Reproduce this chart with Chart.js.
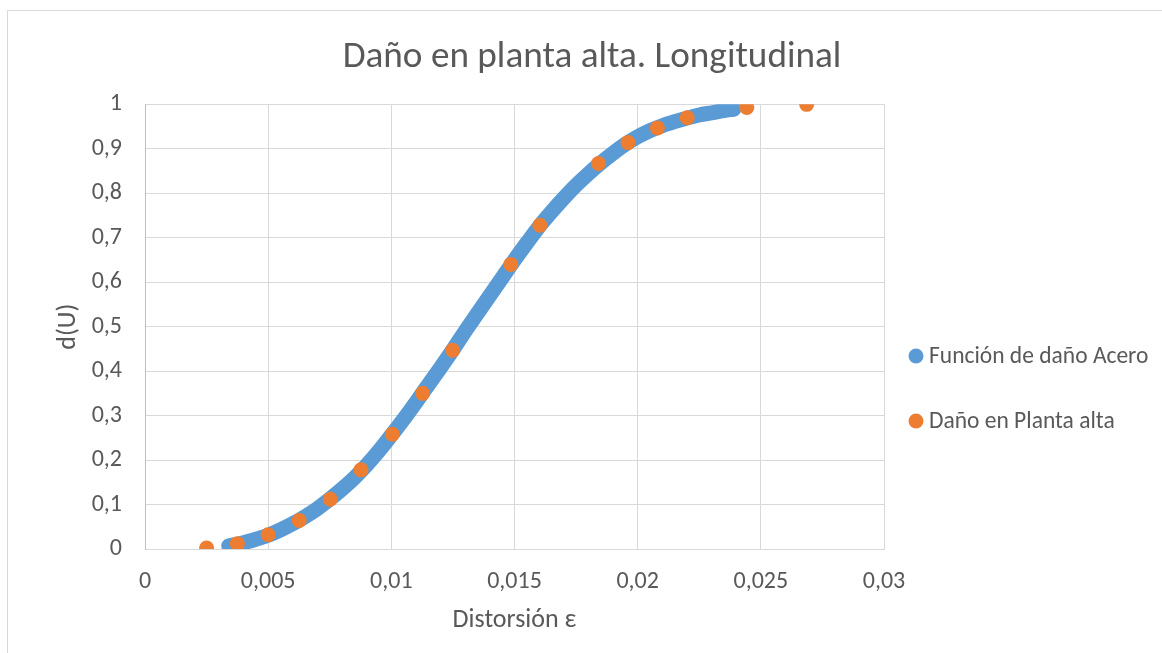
<!DOCTYPE html>
<html>
<head>
<meta charset="utf-8">
<script src="https://cdn.jsdelivr.net/npm/chart.js@4.4.1/dist/chart.umd.min.js"></script>
<style>
  html, body { margin: 0; padding: 0; background: #ffffff; overflow: hidden; }
  #wrap { position: relative; width: 1162px; height: 653px; }
  #frame { position: absolute; left: 7px; top: 10px; width: 1200px; height: 700px;
           border: 1px solid #d9d9d9; box-sizing: border-box; pointer-events: none; }
  canvas { position: absolute; left: 0; top: 0; }
</style>
</head>
<body>
<div id="wrap">
  <canvas id="c" width="1162" height="653"></canvas>
  <div id="frame"></div>
</div>
<script>
// ---- Data ----
const titleText = 'Daño en planta alta. Longitudinal';
const xAxisTitle = 'Distorsión ε';
const yAxisTitle = 'd(U)';
const seriesNames = ['Función de daño Acero', 'Daño en Planta alta'];

// Blue series: damage function (steel)
const curveX = [0.0034, 0.0035, 0.004, 0.0045, 0.005, 0.0055, 0.006, 0.0065, 0.007, 0.0075,
                0.008, 0.0085, 0.009, 0.0095, 0.010, 0.0105, 0.011, 0.0115, 0.012, 0.0125,
                0.013, 0.0135, 0.014, 0.0145, 0.015, 0.0155, 0.016, 0.0165, 0.017, 0.0175,
                0.018, 0.0185, 0.019, 0.0195, 0.020, 0.0205, 0.021, 0.0215, 0.022, 0.0225,
                0.023, 0.0235, 0.0239];
const curveY = [0.007, 0.008, 0.014, 0.022, 0.031, 0.043, 0.057, 0.073, 0.091, 0.112,
                0.135, 0.160, 0.189, 0.221, 0.256, 0.292, 0.330, 0.369, 0.408, 0.448,
                0.490, 0.530, 0.570, 0.610, 0.650, 0.688, 0.725, 0.758, 0.789, 0.818,
                0.844, 0.868, 0.890, 0.910, 0.927, 0.941, 0.952, 0.961, 0.969, 0.976,
                0.981, 0.986, 0.989];

// Orange series: damage in upper floor
const ptsX = [0.0025, 0.00375, 0.005, 0.00626, 0.00752, 0.00877, 0.01004, 0.01127, 0.01249,
              0.01485, 0.01603, 0.01841, 0.01961, 0.0208, 0.02201, 0.02443, 0.02686];
const ptsY = [0.002, 0.012, 0.032, 0.064, 0.112, 0.178, 0.258, 0.350, 0.447,
              0.640, 0.728, 0.867, 0.914, 0.947, 0.970, 0.993, 1.0];

// Tick labels
const xTickLabels = ['0', '0,005', '0,01', '0,015', '0,02', '0,025', '0,03'];
const yTickLabels = ['0', '0,1', '0,2', '0,3', '0,4', '0,5', '0,6', '0,7', '0,8', '0,9', '1'];

// ---- Styling ----
const BLUE = '#5b9bd5';
const ORANGE = '#ed7d31';
const TEXT = '#595959';
const GRID = '#d9d9d9';
const FONT = "Carlito, Calibri, 'Liberation Sans', sans-serif";

const curveData = curveX.map((x, i) => ({ x: x, y: curveY[i] }));
const ptsData = ptsX.map((x, i) => ({ x: x, y: ptsY[i] }));

const legendPlugin = {
  id: 'sideLegend',
  afterDraw(chart) {
    const ctx = chart.ctx;
    const ys = [356, 421];
    ctx.save();
    ctx.font = '23.5px ' + FONT;
    ctx.textBaseline = 'middle';
    ctx.textAlign = 'left';
    chart.data.datasets.forEach((ds, i) => {
      ctx.beginPath();
      ctx.fillStyle = ds.backgroundColor;
      ctx.arc(916, ys[i], 7.5, 0, Math.PI * 2);
      ctx.fill();
      ctx.fillStyle = TEXT;
      ctx.fillText(ds.label, 929, ys[i] + 1);
    });
    ctx.restore();
  }
};

new Chart(document.getElementById('c'), {
  type: 'scatter',
  data: {
    datasets: [
      {
        label: seriesNames[0],
        data: curveData,
        showLine: true,
        borderColor: BLUE,
        backgroundColor: BLUE,
        borderWidth: 15,
        borderCapStyle: 'round',
        borderJoinStyle: 'round',
        cubicInterpolationMode: 'monotone',
        pointRadius: 0,
        pointHoverRadius: 0,
        order: 2
      },
      {
        label: seriesNames[1],
        data: ptsData,
        showLine: false,
        backgroundColor: ORANGE,
        borderColor: ORANGE,
        borderWidth: 0,
        pointRadius: 7.5,
        pointHoverRadius: 7.5,
        order: 1
      }
    ]
  },
  options: {
    responsive: false,
    animation: false,
    layout: { padding: { left: 22, top: 0, right: 0, bottom: 0 } },
    plugins: {
      legend: { display: false },
      tooltip: { enabled: false },
      title: {
        display: true,
        text: titleText,
        color: TEXT,
        font: { family: FONT, size: 37.2, weight: 'normal', lineHeight: 1.2 },
        padding: { top: 35.5, bottom: 24.2 }
      }
    },
    scales: {
      x: {
        type: 'linear',
        min: 0, max: 0.03,
        afterFit(scale) { scale.height = 104; },
        grid: { color: GRID, lineWidth: 1, drawTicks: false },
        border: { color: GRID, width: 1 },
        ticks: {
          stepSize: 0.005,
          padding: 19,
          color: TEXT,
          font: { family: FONT, size: 24 },
          callback: (v, i) => xTickLabels[i]
        },
        title: {
          display: true, text: xAxisTitle, color: TEXT,
          font: { family: FONT, size: 26, lineHeight: 1.2 },
          padding: { top: 0, bottom: 17.4 }
        }
      },
      y: {
        type: 'linear',
        min: 0, max: 1,
        afterFit(scale) { scale.width = 123; },
        grid: { color: GRID, lineWidth: 1, drawTicks: false },
        border: { color: '#bfbfbf', width: 1 },
        ticks: {
          stepSize: 0.1,
          padding: 23,
          color: TEXT,
          font: { family: FONT, size: 24 },
          callback: (v, i) => yTickLabels[i]
        },
        title: {
          display: true, text: yAxisTitle, color: TEXT,
          font: { family: FONT, size: 26, lineHeight: 1.2 },
          padding: { top: 30.4, bottom: 0 }
        }
      },
      legendSpace: {
        type: 'linear',
        position: 'right',
        display: true,
        afterFit(scale) { scale.width = 278; },
        grid: { display: false, drawTicks: false },
        border: { display: false },
        ticks: { display: false }
      }
    }
  },
  plugins: [legendPlugin]
});
</script>
</body>
</html>
